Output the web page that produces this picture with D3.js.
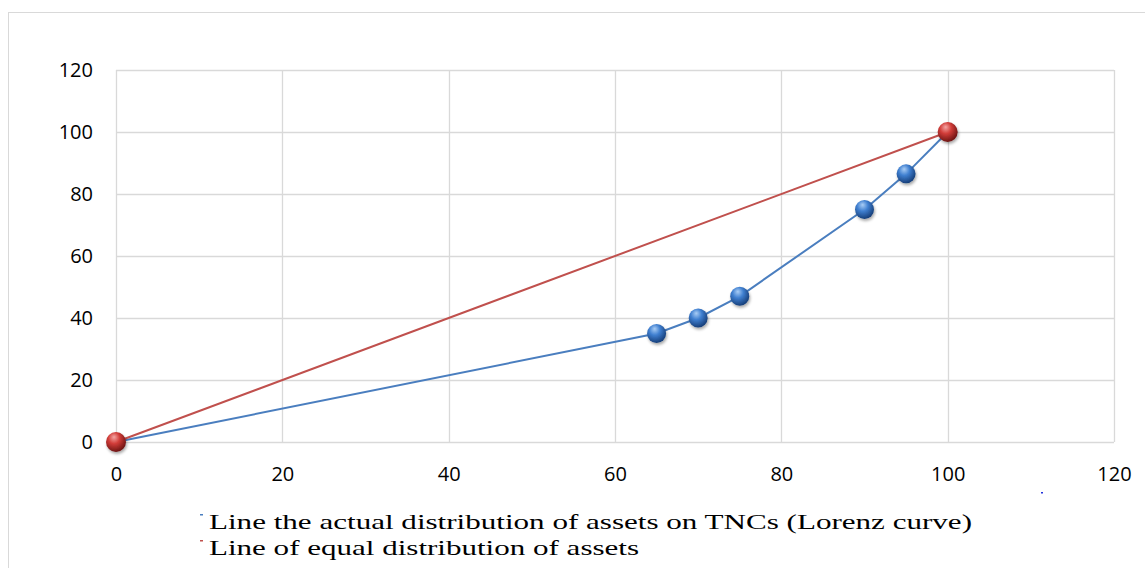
<!DOCTYPE html>
<html><head><meta charset="utf-8">
<script src="https://cdn.jsdelivr.net/npm/d3@7"></script>
<style>body{margin:0;background:#fff}svg{display:block}
.tick text{font-family:"Open Sans",Lato,sans-serif;}
</style>
</head><body>
<svg id="c" width="1145" height="568"></svg>
<script>
const lorenzX = [0, 65, 70, 75, 90, 95, 100];
const lorenzY = [0, 35, 40, 47, 75, 86.5, 100];
const equalX = [0, 100];
const equalY = [0, 100];
const xTicks = [0, 20, 40, 60, 80, 100, 120];
const yTicks = [0, 20, 40, 60, 80, 100, 120];
const legendLabels = ["Line the actual distribution of assets on TNCs (Lorenz curve)", "Line of equal distribution of assets"];

const svg = d3.select("#c");
const x = d3.scaleLinear().domain([0,120]).range([116,1114]);
const y = d3.scaleLinear().domain([0,120]).range([442,70]);

svg.append("rect").attr("x",8.5).attr("y",12.5).attr("width",1150).attr("height",600)
  .attr("fill","none").attr("stroke","#d9d9d9").attr("stroke-width",1);

const defs = svg.append("defs");
function grad(id, light, mid, dark){
  const g = defs.append("radialGradient").attr("id",id).attr("cx","40%").attr("cy","35%").attr("r","65%").attr("fx","40%").attr("fy","25%");
  g.append("stop").attr("offset","0%").attr("stop-color",light);
  g.append("stop").attr("offset","45%").attr("stop-color",mid);
  g.append("stop").attr("offset","100%").attr("stop-color",dark);
}
grad("gb","#a9cdf5","#3f7fd0","#173f7a");
grad("gr","#f4a5a3","#d13c38","#6e1514");
const f = defs.append("filter").attr("id","sh").attr("x","-50%").attr("y","-50%").attr("width","200%").attr("height","200%");
f.append("feGaussianBlur").attr("in","SourceAlpha").attr("stdDeviation",1.5);
f.append("feOffset").attr("dx",1).attr("dy",2).attr("result","b");
f.append("feComponentTransfer").append("feFuncA").attr("type","linear").attr("slope",0.35);
const m = f.append("feMerge"); m.append("feMergeNode"); m.append("feMergeNode").attr("in","SourceGraphic");

const grid = svg.append("g");
grid.selectAll(".gx").data(xTicks).join("line")
  .attr("x1",d=>Math.round(x(d))+0.5).attr("x2",d=>Math.round(x(d))+0.5)
  .attr("y1",y(120)).attr("y2",y(0)).attr("stroke","#d9d9d9").attr("stroke-width",1.3);
grid.selectAll(".gy").data(yTicks).join("line")
  .attr("y1",d=>Math.round(y(d))+0.5).attr("y2",d=>Math.round(y(d))+0.5)
  .attr("x1",x(0)).attr("x2",x(120)).attr("stroke","#d9d9d9").attr("stroke-width",1.3);

const xAxis = d3.axisBottom(x).tickValues(xTicks).tickSize(0).tickPadding(32);
const gx = svg.append("g").attr("transform",`translate(0,${y(0)})`).call(xAxis).attr("font-family",null);
gx.select(".domain").remove();
gx.selectAll("text").attr("font-size",20).attr("fill","#000").attr("dy","0.35em");
const yAxis = d3.axisLeft(y).tickValues(yTicks).tickSize(0).tickPadding(23);
const gy = svg.append("g").attr("transform",`translate(${x(0)},0)`).call(yAxis).attr("font-family",null);
gy.select(".domain").remove();
gy.selectAll("text").attr("font-size",20).attr("fill","#000");

const line = d3.line().x(d=>x(d[0])).y(d=>y(d[1]));
const lorenz = lorenzX.map((v,i)=>[v,lorenzY[i]]);
const equal = equalX.map((v,i)=>[v,equalY[i]]);
svg.append("path").datum(lorenz).attr("d",line).attr("fill","none").attr("stroke","#4a7ebf").attr("stroke-width",2);
svg.append("path").datum(equal).attr("d",line).attr("fill","none").attr("stroke","#c0504d").attr("stroke-width",2);

svg.append("g").selectAll("circle").data(lorenz.slice(1,-1)).join("circle")
  .attr("cx",d=>x(d[0])).attr("cy",d=>y(d[1])).attr("r",9.5)
  .attr("fill","url(#gb)").attr("filter","url(#sh)");
svg.append("g").selectAll("circle").data(equal).join("circle")
  .attr("cx",d=>x(d[0])).attr("cy",d=>y(d[1])).attr("r",10)
  .attr("fill","url(#gr)").attr("filter","url(#sh)");

const lg = svg.append("g");
const legColors = ["#4a7ebf","#c0504d"];
const legY = [529, 555];
const legW = [763, 430];
legendLabels.forEach((t,i)=>{
  lg.append("rect").attr("x",200).attr("y",legY[i]-15).attr("width",3).attr("height",1.5).attr("fill",legColors[i]);
  lg.append("text").attr("x",209).attr("y",legY[i]).text(t)
    .style("font-family","'Times New Roman', 'Liberation Serif', Tinos, 'DejaVu Serif', serif")
    .attr("font-size",21).attr("fill","#000")
    .attr("textLength",legW[i]).attr("lengthAdjust","spacingAndGlyphs");
});
svg.append("rect").attr("x",1041).attr("y",492).attr("width",2).attr("height",1.5).attr("fill","#2233dd");
</script>
</body></html>
